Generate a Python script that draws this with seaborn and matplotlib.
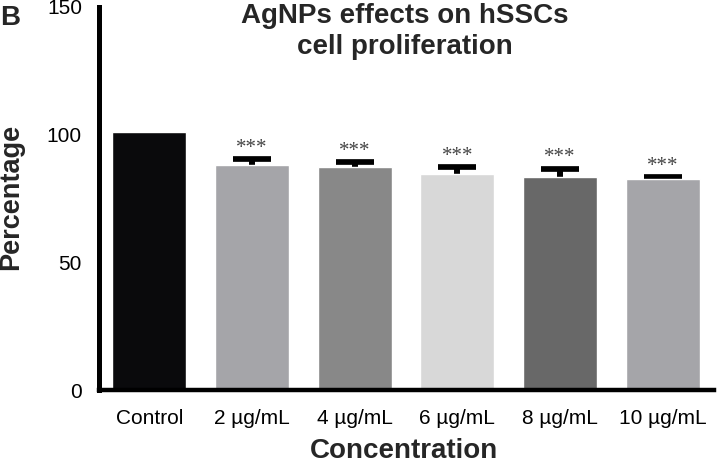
import matplotlib
matplotlib.use("Agg")
import matplotlib.pyplot as plt
import seaborn as sns
import pandas as pd

categories = ["Control", "2 µg/mL", "4 µg/mL", "6 µg/mL", "8 µg/mL", "10 µg/mL"]
means = [101.2, 88.1, 87.4, 84.6, 83.6, 82.5]
err_upper = [0, 2.4, 1.8, 2.6, 3.1, 0.9]
stars = ["", "***", "***", "***", "***", "***"]
colors = ["#0a0a0c", "#a5a5a9", "#888888", "#d8d8d8", "#686868", "#a5a5a9"]

sns.set_style("white")
plt.rcParams["font.family"] = ["Liberation Sans", "DejaVu Sans"]

df = pd.DataFrame({"Concentration": categories, "Percentage": means})

fig = plt.figure(figsize=(7.18, 4.66), dpi=100)
ax = fig.add_axes([99 / 718, 76 / 466, 615 / 718, 383 / 466])

sns.barplot(data=df, x="Concentration", y="Percentage", hue="Concentration",
            palette=colors, legend=False, width=0.72, ax=ax, saturation=1,
            zorder=2)

xs = list(range(len(categories)))
for x, m, e in zip(xs, means, err_upper):
    if e > 0:
        ax.errorbar(x, m, yerr=e, fmt="none", ecolor="black",
                    elinewidth=4.3, capsize=13.7, capthick=4.1, zorder=1)

for x, m, e, s in zip(xs, means, err_upper, stars):
    if s:
        ax.text(x, m + e + 4.2, s, ha="center", va="center", fontsize=15,
                color="#444444", family=["Liberation Serif"])

ax.set_ylim(0, 150)
ax.set_xlim(-0.49, 5.5)
ax.set_yticks([0, 50, 100, 150])
ax.tick_params(axis="both", direction="out", width=3.4, labelsize=15,
               color="black", labelcolor="black")
ax.tick_params(axis="x", length=7, pad=6.5)
ax.tick_params(axis="y", length=8.5, pad=3.8)
for side in ["top", "right"]:
    ax.spines[side].set_visible(False)
ax.spines["left"].set_linewidth(3.6)
ax.spines["bottom"].set_linewidth(3.2)
for side in ["left", "bottom"]:
    ax.spines[side].set_color("black")

ax.set_xlabel("Concentration", fontsize=20, fontweight="bold")
ax.set_ylabel("Percentage", fontsize=19.5, fontweight="bold")
ax.xaxis.set_label_coords(0.496, -0.125)
ax.yaxis.set_label_coords(-0.121, 0.505)

fig.text(405 / 718, 1 - 23 / 466, "AgNPs effects on hSSCs", ha="center",
         va="baseline", fontsize=20, fontweight="bold")
fig.text(405 / 718, 1 - 54 / 466, "cell proliferation", ha="center",
         va="baseline", fontsize=20, fontweight="bold")
fig.text(0.0, 1 - 25 / 466, "B", ha="left", va="baseline", fontsize=20,
         fontweight="bold")

fig.savefig("out.png", dpi=100)
